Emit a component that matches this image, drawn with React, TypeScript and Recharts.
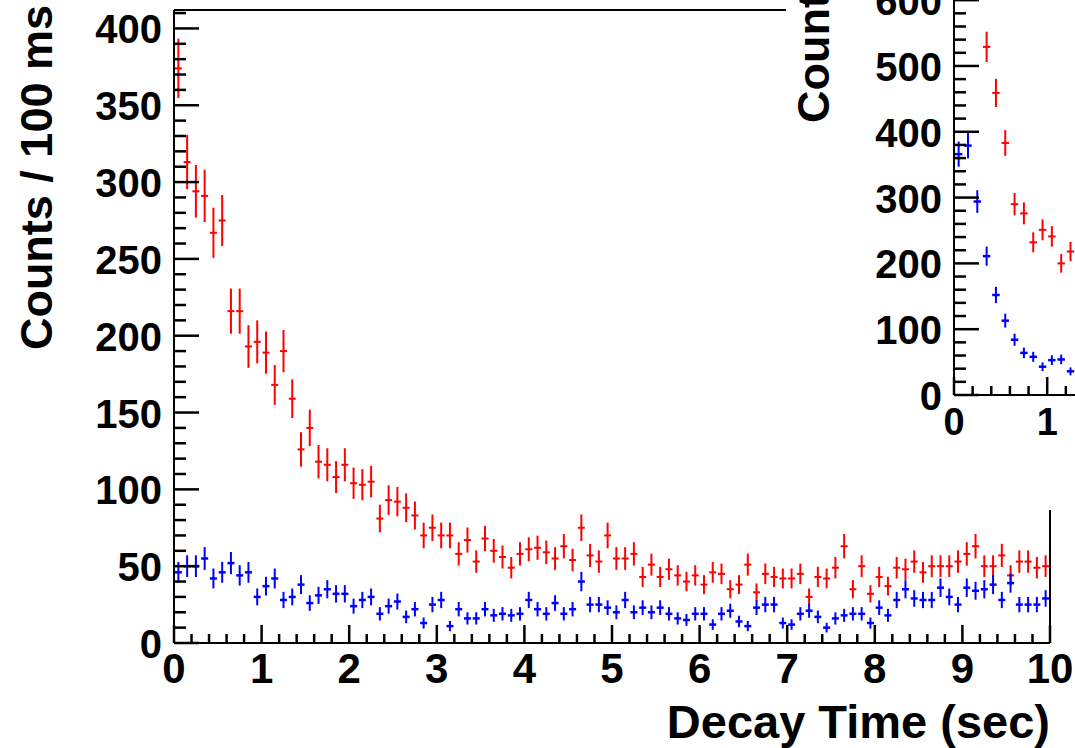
import React from "react";
import { ScatterChart, Scatter, XAxis, YAxis, ErrorBar } from "recharts";

// Main plot: counts per 100 ms bin, 0-10 s (100 bins)
const redCounts = [
  374, 313, 294, 291, 267, 275, 216, 216, 193, 196,
  189, 168, 190, 159, 126, 140, 118, 116, 108, 116,
  104, 103, 105, 81, 93, 92, 88, 83, 70, 75,
  70, 70, 58, 67, 53, 68, 60, 56, 49, 58,
  61, 62, 59, 55, 63, 54, 75, 57, 53, 70,
  55, 55, 58, 43, 51, 43, 48, 44, 40, 44,
  38, 46, 45, 35, 38, 51, 33, 45, 43, 42,
  42, 45, 30, 43, 42, 49, 63, 35, 50, 32,
  43, 37, 49, 48, 53, 46, 50, 50, 50, 53,
  58, 63, 50, 50, 57, 44, 53, 53, 49, 50,
];
const blueCounts = [
  46, 50, 50, 55, 42, 46, 52, 44, 46, 30,
  37, 42, 28, 30, 38, 26, 31, 35, 32, 32,
  24, 28, 30, 19, 24, 27, 17, 22, 13, 25,
  28, 11, 22, 16, 16, 22, 18, 19, 18, 19,
  28, 22, 19, 26, 19, 22, 40, 25, 25, 23,
  20, 28, 20, 23, 20, 23, 19, 16, 15, 19,
  19, 12, 19, 21, 14, 11, 23, 25, 25, 13,
  12, 19, 21, 17, 10, 16, 18, 19, 19, 13,
  23, 18, 28, 35, 29, 28, 28, 36, 30, 25,
  36, 34, 35, 38, 28, 39, 25, 25, 25, 29,
];

// Inset: only the first bins are visible (null = above the frame)
const insetRed = [null, null, null, 529, 459, 383, 290, 276, 232, 251, 241, 200, 218, 191];
const insetBlue = [366, 379, 294, 211, 152, 113, 84, 64, 58, 43, 53, 54, 36, 40];

const BIN = 0.1;
const mainYLabels = [0, 50, 100, 150, 200, 250, 300, 350, 400];
const insetYLabels = [0, 100, 200, 300, 400, 500, 600];
const xLabels = [0, 1, 2, 3, 4, 5, 6, 7, 8, 9, 10];
const insetXLabels = [0, 1];

const FONT = "'Liberation Sans', Arial, Helvetica, sans-serif";
const RED = "#ff0000";
const BLUE = "#0000ff";
const INK = "#000000";

type Pt = { t: number; n: number; err: number; xerr: number };
const toPoints = (vals: (number | null)[]): Pt[] => {
  const out: Pt[] = [];
  vals.forEach((v, i) => {
    if (v != null) out.push({ t: (i + 0.5) * BIN, n: v, err: Math.sqrt(v), xerr: 0.04 });
  });
  return out;
};

const redPts = toPoints(redCounts);
const bluePts = toPoints(blueCounts);
const insetRedPts = toPoints(insetRed);
const insetBluePts = toPoints(insetBlue);

const range = (max: number, step: number) => {
  const out: number[] = [];
  for (let i = 0; i * step <= max + 1e-9; i++) out.push(+(i * step).toFixed(4));
  return out;
};
const xTicks = range(10, 0.2);
const mainYTicks = range(410, 10);
const insetYTicks = range(620, 20);

const isInt = (v: number) => Math.abs(v - Math.round(v)) < 1e-6;
const noMark = () => <g />;

// ROOT style ticks, drawn inside the frame
function MainLeftTick(p: any) {
  const v = p.payload.value;
  const major = v % 50 === 0;
  return (
    <g>
      <line x1={p.x} x2={p.x + (major ? 25 : 12)} y1={p.y} y2={p.y} stroke={INK} strokeWidth={2.5} />
      {mainYLabels.includes(v) && (
        <text x={p.x - 12} y={p.y + 15} textAnchor="end" fontSize={40} fontFamily={FONT} fontWeight="bold">
          {v}
        </text>
      )}
    </g>
  );
}

function InsetLeftTick(p: any) {
  const v = p.payload.value;
  const major = v % 100 === 0;
  return (
    <g>
      <line x1={p.x} x2={p.x + (major ? 25 : 12)} y1={p.y} y2={p.y} stroke={INK} strokeWidth={2.5} />
      {insetYLabels.includes(v) && (
        <text x={p.x - 12} y={p.y + 15} textAnchor="end" fontSize={40} fontFamily={FONT} fontWeight="bold">
          {v}
        </text>
      )}
    </g>
  );
}

function MainRightTick(p: any) {
  const major = p.payload.value % 50 === 0;
  return <line x1={p.x} x2={p.x - (major ? 25 : 12)} y1={p.y} y2={p.y} stroke={INK} strokeWidth={2.5} />;
}

function MainBottomTick(p: any) {
  const v = p.payload.value;
  const major = isInt(v);
  return (
    <g>
      <line x1={p.x} x2={p.x} y1={p.y} y2={p.y - (major ? 18 : 9)} stroke={INK} strokeWidth={2.5} />
      {major && xLabels.includes(Math.round(v)) && (
        <text x={p.x} y={p.y + 40} textAnchor="middle" fontSize={42} fontFamily={FONT} fontWeight="bold">
          {Math.round(v)}
        </text>
      )}
    </g>
  );
}

function InsetBottomTick(p: any) {
  const v = p.payload.value;
  const major = isInt(v);
  return (
    <g>
      <line x1={p.x} x2={p.x} y1={p.y} y2={p.y - (major ? 18 : 9)} stroke={INK} strokeWidth={2.5} />
      {major && insetXLabels.includes(Math.round(v)) && (
        <text x={p.x} y={p.y + 40} textAnchor="middle" fontSize={38} fontFamily={FONT} fontWeight="bold">
          {Math.round(v)}
        </text>
      )}
    </g>
  );
}

function MainTopTick(p: any) {
  const major = isInt(p.payload.value);
  return <line x1={p.x} x2={p.x} y1={p.y} y2={p.y + (major ? 17 : 8)} stroke={INK} strokeWidth={2.5} />;
}

const axisLine = { stroke: INK, strokeWidth: 2 };

export default function App() {
  return (
    <div
      style={{
        position: "fixed",
        left: 0,
        top: 0,
        width: 1075,
        height: 748,
        overflow: "hidden",
        background: "#fff",
      }}
    >
      <svg width={1075} height={748} style={{ position: "absolute", left: 0, top: 0 }}>
        <text transform="translate(52,5) rotate(-90)" textAnchor="end" fontSize={45} fontFamily={FONT} fontWeight="bold">
          Counts / 100 ms
        </text>
        <text x={1050} y={738} textAnchor="end" fontSize={47} fontFamily={FONT} fontWeight="bold">
          Decay Time (sec)
        </text>
      </svg>
      <ScatterChart width={1075} height={748} margin={{ top: 0, right: 0, bottom: 0, left: 0 }}>
        <XAxis
          xAxisId="b"
          type="number"
          dataKey="t"
          domain={[0, 10]}
          ticks={xTicks}
          interval={0}
          height={105}
          tickSize={0}
          tickMargin={0}
          axisLine={axisLine}
          tick={MainBottomTick}
        />
        <XAxis
          xAxisId="t"
          orientation="top"
          type="number"
          dataKey="t"
          domain={[0, 10]}
          ticks={xTicks}
          interval={0}
          height={10}
          tickSize={0}
          tickMargin={0}
          axisLine={axisLine}
          tick={MainTopTick}
        />
        <YAxis
          yAxisId="l"
          type="number"
          dataKey="n"
          domain={[0, 412]}
          ticks={mainYTicks}
          interval={0}
          width={174}
          tickSize={0}
          tickMargin={0}
          axisLine={axisLine}
          tick={MainLeftTick}
        />
        <YAxis
          yAxisId="r"
          orientation="right"
          type="number"
          dataKey="n"
          domain={[0, 412]}
          ticks={mainYTicks}
          interval={0}
          width={25}
          tickSize={0}
          tickMargin={0}
          axisLine={axisLine}
          tick={MainRightTick}
        />
        <Scatter data={redPts} xAxisId="b" yAxisId="l" dataKey="n" shape={noMark} isAnimationActive={false}>
          <ErrorBar dataKey="err" direction="y" width={0} stroke={RED} strokeWidth={2} isAnimationActive={false} />
          <ErrorBar dataKey="xerr" direction="x" width={0} stroke={RED} strokeWidth={2} isAnimationActive={false} />
        </Scatter>
        <Scatter data={bluePts} xAxisId="b" yAxisId="l" dataKey="n" shape={noMark} isAnimationActive={false}>
          <ErrorBar dataKey="err" direction="y" width={0} stroke={BLUE} strokeWidth={2} isAnimationActive={false} />
          <ErrorBar dataKey="xerr" direction="x" width={0} stroke={BLUE} strokeWidth={2.5} isAnimationActive={false} />
        </Scatter>
      </ScatterChart>
      {/* inset pad, cut by the right and top edges of the picture */}
      <div style={{ position: "absolute", left: 786, top: -230, width: 1100, height: 740, background: "#fff" }}>
        <svg width={100} height={740} style={{ position: "absolute", left: 0, top: 0 }}>
          <text transform="translate(43,353) rotate(-90)" textAnchor="start" fontSize={45} fontFamily={FONT} fontWeight="bold">
            Counts / 100 ms
          </text>
        </svg>
        <ScatterChart width={1100} height={740} margin={{ top: 217, right: 0, bottom: 0, left: 0 }}>
          <XAxis
            type="number"
            dataKey="t"
            domain={[0, 10]}
            ticks={xTicks}
            interval={0}
            height={115}
            tickSize={0}
            tickMargin={0}
            axisLine={axisLine}
            tick={InsetBottomTick}
          />
          <YAxis
            type="number"
            dataKey="n"
            domain={[0, 620]}
            ticks={insetYTicks}
            interval={0}
            width={168}
            tickSize={0}
            tickMargin={0}
            axisLine={axisLine}
            tick={InsetLeftTick}
          />
          <Scatter data={insetRedPts} dataKey="n" shape={noMark} isAnimationActive={false}>
            <ErrorBar dataKey="err" direction="y" width={0} stroke={RED} strokeWidth={2} isAnimationActive={false} />
            <ErrorBar dataKey="xerr" direction="x" width={0} stroke={RED} strokeWidth={2} isAnimationActive={false} />
          </Scatter>
          <Scatter data={insetBluePts} dataKey="n" shape={noMark} isAnimationActive={false}>
            <ErrorBar dataKey="err" direction="y" width={0} stroke={BLUE} strokeWidth={2} isAnimationActive={false} />
            <ErrorBar dataKey="xerr" direction="x" width={0} stroke={BLUE} strokeWidth={2.5} isAnimationActive={false} />
          </Scatter>
        </ScatterChart>
      </div>
    </div>
  );
}
